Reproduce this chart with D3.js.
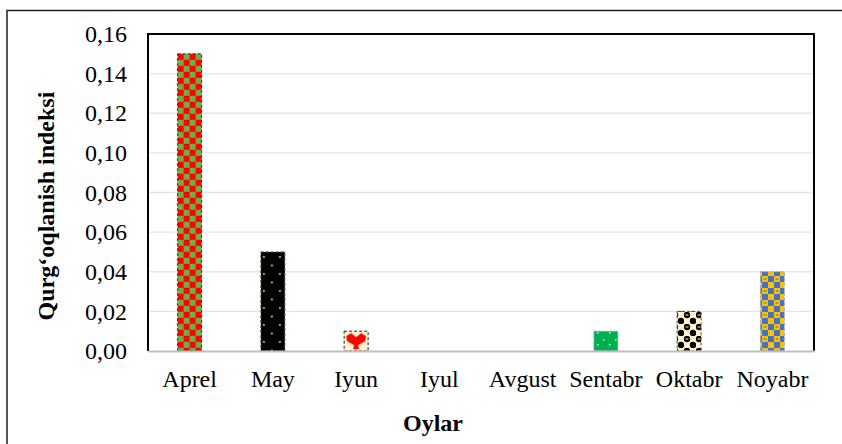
<!DOCTYPE html>
<html><head><meta charset="utf-8">
<script src="https://cdn.jsdelivr.net/npm/d3@7"></script>
<style>body{margin:0;background:#fff}svg{display:block}</style>
</head><body>
<script>
const categories = ["Aprel","May","Iyun","Iyul","Avgust","Sentabr","Oktabr","Noyabr"];
const values = [0.15,0.05,0.01,0,0,0.01,0.02,0.04];
const yTicks = [0,0.02,0.04,0.06,0.08,0.10,0.12,0.14,0.16];
const patternIds = ["pA","pM","pI","pJ","pV","pS","pO","pN"];
const strokes = ["#333","#555","#222","#333","#333","#9ab","#555","#9ab"];

const W=842,H=444;
const m={left:148,right:814,top:34,bottom:351};
const svg=d3.select("body").append("svg").attr("width",W).attr("height",H);
const defs=svg.append("defs");
const font="'Liberation Serif','Times New Roman',serif";

const x=d3.scaleBand().domain(categories).range([m.left,m.right]).paddingInner(0.712).paddingOuter(0.356);
const y=d3.scaleLinear().domain([0,0.16]).range([m.bottom,m.top]);

// patterns
let p=defs.append("pattern").attr("id","pA").attr("patternUnits","userSpaceOnUse").attr("width",12).attr("height",12).attr("x",x("Aprel")).attr("y",y(0.15));
p.append("rect").attr("width",12).attr("height",12).attr("fill","#70AD47");
p.append("rect").attr("width",6).attr("height",6).attr("fill","#FF0000");
p.append("rect").attr("x",6).attr("y",6).attr("width",6).attr("height",6).attr("fill","#FF0000");

p=defs.append("pattern").attr("id","pM").attr("patternUnits","userSpaceOnUse").attr("width",16).attr("height",17).attr("x",x("May")).attr("y",y(0.05));
p.append("rect").attr("width",16).attr("height",17).attr("fill","#000");
p.append("circle").attr("cx",3).attr("cy",5).attr("r",1.1).attr("fill","#FFC000");
p.append("circle").attr("cx",11).attr("cy",13.5).attr("r",1.1).attr("fill","#FFC000");

p=defs.append("pattern").attr("id","pI").attr("patternUnits","userSpaceOnUse").attr("width",24).attr("height",22).attr("x",x("Iyun")).attr("y",y(0.01));
p.append("rect").attr("width",24).attr("height",22).attr("fill","#FFF2CC");
p.append("path").attr("d","M2,5 L7,2 L12,6 L17,2 L22,5 L21,10 L14,14 L15,18 L9,18 L10,14 L3,10 Z").attr("fill","#FF0000");

p=defs.append("pattern").attr("id","pS").attr("patternUnits","userSpaceOnUse").attr("width",12).attr("height",12);
p.append("rect").attr("width",12).attr("height",12).attr("fill","#00B050");
p.append("rect").attr("x",3).attr("y",3).attr("width",1.5).attr("height",1.5).attr("fill","#dff5e6");
p.append("rect").attr("x",9).attr("y",8).attr("width",1.5).attr("height",1.5).attr("fill","#dff5e6");

p=defs.append("pattern").attr("id","pO").attr("patternUnits","userSpaceOnUse").attr("width",12).attr("height",12);
p.append("rect").attr("width",12).attr("height",12).attr("fill","#FFF2CC");
p.append("circle").attr("cx",3).attr("cy",3).attr("r",3.2).attr("fill","#000");
p.append("circle").attr("cx",9).attr("cy",9).attr("r",3.2).attr("fill","#000");
p.append("rect").attr("x",1.5).attr("y",2.5).attr("width",3).attr("height",1).attr("fill","#FFF2CC");

p=defs.append("pattern").attr("id","pN").attr("patternUnits","userSpaceOnUse").attr("width",12).attr("height",12);
p.append("rect").attr("width",12).attr("height",12).attr("fill","#FFC000");
p.append("rect").attr("width",6).attr("height",6).attr("fill","#4472C4");
p.append("rect").attr("x",6).attr("y",6).attr("width",6).attr("height",6).attr("fill","#4472C4");
p.append("rect").attr("x",7.5).attr("y",2.5).attr("width",3).attr("height",1).attr("fill","#4472C4");
p.append("rect").attr("x",1.5).attr("y",8.5).attr("width",3).attr("height",1).attr("fill","#FFC000");

// outer frame (left and top visible)
svg.append("path").attr("d",`M7,444 L7,10.5 L842,10.5`).attr("fill","none").attr("stroke","#222").attr("stroke-width",1.5);

// gridlines
svg.append("g").selectAll("line").data(yTicks.slice(1)).join("line")
  .attr("x1",m.left).attr("x2",m.right).attr("y1",d=>y(d)).attr("y2",d=>y(d))
  .attr("stroke","#e6e6e6").attr("stroke-width",1.3);

// bars
svg.append("g").selectAll("rect").data(values).join("rect")
  .attr("x",(d,i)=>x(categories[i])).attr("width",x.bandwidth())
  .attr("y",d=>y(d)).attr("height",d=>y(0)-y(d))
  .attr("fill",(d,i)=>`url(#${patternIds[i]})`)
  .attr("stroke",(d,i)=>d>0?strokes[i]:"none").attr("stroke-width",1).attr("stroke-dasharray","3,2");

// plot border left, top, right
svg.append("path").attr("d",`M${m.left},${m.bottom} L${m.left},${m.top} L${m.right},${m.top} L${m.right},${m.bottom}`)
  .attr("fill","none").attr("stroke","#000").attr("stroke-width",2);

// y axis
const ya=svg.append("g").attr("transform",`translate(${m.left},0)`)
  .call(d3.axisLeft(y).tickValues(yTicks).tickSize(0).tickPadding(21).tickFormat(d=>d3.format(".2f")(d).replace(".",",")));
ya.select(".domain").remove();
ya.selectAll("text").attr("font-family",font).attr("font-size",24).attr("fill","#000");

// x axis
const xa=svg.append("g").attr("transform",`translate(0,${m.bottom})`)
  .call(d3.axisBottom(x).tickSize(0).tickPadding(19));
xa.select(".domain").attr("stroke","#bfbfbf").attr("stroke-width",2);
xa.selectAll("text").attr("font-family",font).attr("font-size",24).attr("fill","#000");

// titles
svg.append("text").attr("transform","translate(54,206) rotate(-90)").attr("text-anchor","middle")
  .attr("font-family",font).attr("font-weight","bold").attr("font-size",24).text("Qurg‘oqlanish indeksi");
svg.append("text").attr("x",433).attr("y",431).attr("text-anchor","middle")
  .attr("font-family",font).attr("font-weight","bold").attr("font-size",24).text("Oylar");
</script>
</body></html>
